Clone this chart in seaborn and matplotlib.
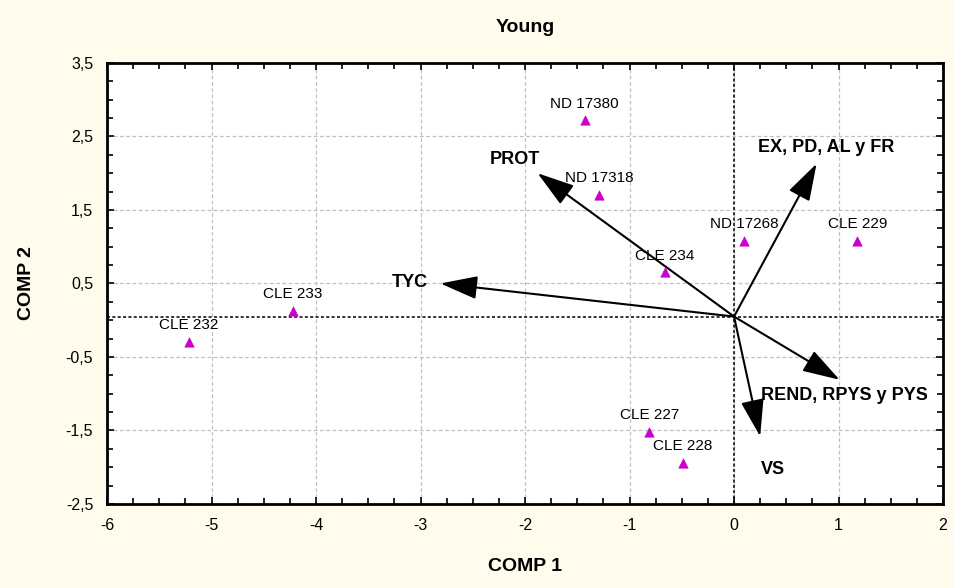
import matplotlib
matplotlib.use("Agg")
import matplotlib.pyplot as plt
from matplotlib.ticker import MultipleLocator, FixedLocator, FuncFormatter
import seaborn as sns
import pandas as pd

# genotype scores
names = ["ND 17380", "ND 17318", "ND 17268", "CLE 229", "CLE 234",
         "CLE 233", "CLE 232", "CLE 227", "CLE 228"]
comp1 = [-1.43, -1.29, 0.10, 1.18, -0.66, -4.22, -5.22, -0.81, -0.49]
comp2 = [2.72, 1.71, 1.08, 1.08, 0.65, 0.13, -0.29, -1.52, -1.94]

# variable vectors
var_names = ["PROT", "EX, PD, AL y FR", "TYC", "REND, RPYS y PYS", "VS"]
var_x = [-1.88, 0.79, -2.81, 1.01, 0.25]
var_y = [2.00, 2.13, 0.50, -0.81, -1.58]
var_lx = [-2.10, 0.88, -3.10, 1.06, 0.37]
var_ly = [2.18, 2.35, 0.52, -1.03, -2.03]
origin = (0.0, 0.05)

xticks = [-6, -5, -4, -3, -2, -1, 0, 1, 2]
yticks = [-2.5, -1.5, -0.5, 0.5, 1.5, 2.5, 3.5]

sns.set_style("white")
plt.rcParams["font.family"] = ["Liberation Sans", "DejaVu Sans"]
plt.rcParams["text.color"] = "black"
plt.rcParams["axes.labelcolor"] = "black"
plt.rcParams["xtick.color"] = "black"
plt.rcParams["ytick.color"] = "black"

bg = "#fffcee"
fig = plt.figure(figsize=(9.54, 5.88), dpi=100, facecolor=bg)
ax = fig.add_axes([0.1122, 0.1429, 0.8763, 0.75])
ax.set_facecolor("white")

df = pd.DataFrame({"x": comp1, "y": comp2, "name": names})
sns.scatterplot(data=df, x="x", y="y", marker="^", s=45, color="#cc00cc",
                edgecolor="#cc00cc", linewidth=0.5, ax=ax, zorder=5)
for _, r in df.iterrows():
    ax.annotate(r["name"], (r["x"], r["y"]), xytext=(0, 7), textcoords="offset points",
                ha="center", va="bottom", fontsize=11, color="black", zorder=6)

ax.axhline(origin[1], color="black", ls=(0, (2, 1.5)), lw=1.1, zorder=2)
ax.axvline(origin[0], color="black", ls=(0, (2, 1.5)), lw=1.1, zorder=2)

for nm, vx, vy, lx, ly in zip(var_names, var_x, var_y, var_lx, var_ly):
    ax.annotate("", xy=(vx, vy), xytext=origin,
                arrowprops=dict(arrowstyle="-|>,head_length=1.15,head_width=0.36",
                                mutation_scale=20, lw=1.5, color="black",
                                shrinkA=0, shrinkB=0), zorder=4)
    ax.text(lx, ly, nm, ha="center", va="center", fontsize=13,
            fontweight="bold", color="black", zorder=6)

ax.set_xlim(-6, 2)
ax.set_ylim(-2.5, 3.5)
ax.xaxis.set_major_locator(FixedLocator(xticks))
ax.yaxis.set_major_locator(FixedLocator(yticks))
ax.xaxis.set_minor_locator(MultipleLocator(0.25))
ax.yaxis.set_minor_locator(MultipleLocator(0.25))
fmt = FuncFormatter(lambda v, p: (f"{v:g}").replace(".", ","))
ax.xaxis.set_major_formatter(fmt)
ax.yaxis.set_major_formatter(fmt)
ax.grid(True, which="major", color="#c0c0c0", ls=(0, (3, 2)), lw=0.9)
ax.set_axisbelow(True)
ax.tick_params(which="both", direction="in", top=True, right=True,
               bottom=True, left=True, color="black", width=1.2)
ax.tick_params(which="major", length=5, labelsize=11.5, pad=10)
ax.tick_params(which="minor", length=4)
for sp in ax.spines.values():
    sp.set_linewidth(2)
    sp.set_color("black")

ax.set_xlabel("COMP 1", fontsize=14, fontweight="bold", labelpad=18)
ax.set_ylabel("COMP 2", fontsize=14, fontweight="bold", labelpad=22)
ax.set_title("Young", fontsize=14, fontweight="bold", pad=22)

fig.savefig("out.png", dpi=100, facecolor=bg)
